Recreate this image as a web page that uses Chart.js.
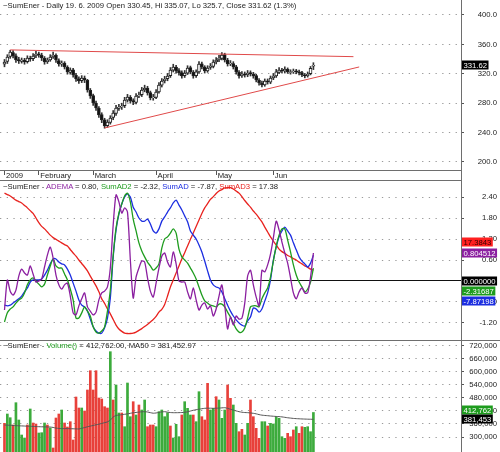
<!DOCTYPE html>
<html lang="en">
<head>
<meta charset="UTF-8">
<title>SumEner - Daily</title>
<script src="https://cdn.jsdelivr.net/npm/chart.js"></script>
<style>
  body { margin: 0; background: #fff; width: 500px; height: 452px; overflow: hidden; position: relative;
         font-family: 'Liberation Sans', Arial, sans-serif; }
  .pane { position: absolute; left: 0; width: 500px; }
  .pane canvas { display: block; }
  .ttl { position: absolute; left: 3px; font-size: 7.7px; line-height: 9px; color: #222; white-space: nowrap; }
  .rule { position: absolute; background: #6e6e6e; }
</style>
</head>
<body>
<div class="pane" style="top:0;height:180px"><canvas id="price" width="500" height="180"></canvas></div>
<div class="pane" style="top:180px;height:160px"><canvas id="osc" width="500" height="160"></canvas></div>
<div class="pane" style="top:340px;height:112px"><canvas id="vol" width="500" height="112"></canvas></div>
<div class="rule" style="left:0;top:180px;width:462px;height:1px"></div>
<div class="rule" style="left:0;top:340px;width:500px;height:1px"></div>
<div class="rule" style="left:461px;top:0;width:1px;height:452px"></div>
<div class="ttl" style="top:1px">~SumEner - Daily 19. 6. 2009 Open 330.45, Hi 335.07, Lo 325.7, Close 331.62 (1.3%)</div>
<div class="ttl" style="top:182px">~SumEner - <span style="color:#8b1fa0">ADEMA</span> = 0.80, <span style="color:#1e9c1e">SumAD2</span> = -2.32, <span style="color:#1c2ee0">SumAD</span> = -7.87, <span style="color:#e8221e">SumAD3</span> = 17.38</div>
<div class="ttl" style="top:341px">~SumEner - <span style="color:#1e9c1e">Volume()</span> = 412,762.00, MA50 = 381,452.97</div>

<script>
  // ---- data (one value per trading day, 14 Jan .. 19 Jun 2009) ----
  const monthTicks = [0, 12, 31, 53, 74, 94];
  const monthLabels = ['2009', 'February', 'March', 'April', 'May', 'Jun'];

  const priceTicks = [200, 240, 280, 320, 360, 400];
  const openP = [333.0,337.0,343.5,349.0,344.5,339.5,337.0,338.5,336.5,341.0,
    340.5,344.5,347.0,345.0,341.0,336.5,339.0,343.0,345.0,338.0,
    333.0,334.5,329.0,322.0,325.5,318.0,313.0,310.5,314.0,311.0,
    297.5,290.5,280.0,273.0,264.5,257.5,249.5,254.0,260.5,266.0,
    273.0,275.0,276.5,284.0,288.0,283.5,281.0,290.0,291.5,298.0,
    300.5,294.5,287.5,288.0,295.5,304.5,310.5,313.5,317.5,325.0,
    329.0,324.5,321.5,317.5,321.0,328.5,322.0,317.5,322.5,333.5,
    329.0,324.0,328.5,330.0,336.0,339.0,341.0,346.0,338.5,333.5,
    334.0,329.5,322.0,317.5,320.0,318.5,321.5,319.5,317.5,311.0,
    307.5,305.0,310.5,308.5,314.5,317.0,322.0,325.0,323.5,326.0,
    322.0,322.8,324.0,322.5,321.5,318.0,317.5,320.0,330.45];
  const highP = [339.5,346.0,352.0,351.5,347.0,342.5,341.5,341.0,344.5,344.0,
    347.5,350.5,349.5,348.0,343.5,341.5,346.0,349.5,347.0,340.5,
    337.5,336.5,331.0,328.0,327.5,320.5,316.0,317.5,317.0,312.5,
    300.0,292.5,283.0,275.5,267.0,259.5,257.5,263.0,270.0,277.0,
    278.5,280.0,288.0,292.0,290.5,286.0,293.0,295.0,301.5,304.5,
    303.0,296.5,292.0,298.5,308.0,313.5,316.5,320.5,328.5,333.0,
    331.5,327.0,324.0,324.5,331.0,330.5,324.5,325.5,336.5,336.0,
    331.0,331.0,334.0,339.0,342.0,345.0,349.0,348.0,341.0,338.0,
    336.5,331.5,324.5,323.0,322.5,324.5,324.0,322.0,319.5,313.5,
    310.0,313.0,313.0,317.0,320.5,326.0,328.5,327.5,329.5,328.0,
    325.5,326.5,326.0,325.0,323.5,320.5,322.5,330.0,335.07];
  const lowP = [329.5,334.0,341.0,341.5,335.5,334.0,334.5,333.0,334.5,337.0,
    338.0,342.0,342.5,338.0,333.0,334.0,337.0,341.0,335.5,330.5,
    330.0,326.5,319.5,319.5,315.5,309.5,307.0,308.0,308.0,295.0,
    286.5,277.0,270.0,260.5,253.5,246.0,247.0,251.5,257.5,263.5,
    270.0,271.5,274.0,281.5,280.0,278.0,279.0,287.5,289.0,295.5,
    291.0,284.5,284.0,286.0,293.5,302.0,307.5,310.5,315.0,322.5,
    321.0,318.0,314.0,315.0,319.0,320.0,314.0,315.0,320.5,326.5,
    321.0,322.0,326.0,328.0,333.5,336.5,339.0,336.0,330.5,331.0,
    326.5,319.5,314.0,315.0,315.5,316.0,317.0,314.0,309.0,304.5,
    302.0,303.0,306.0,306.5,312.0,315.0,320.0,321.5,321.0,320.5,
    319.5,320.5,320.0,318.5,316.0,314.5,315.5,318.5,325.7];
  const closeP = [336.1,342.9,349.7,344.2,338.8,337.4,338.8,336.1,341.5,340.1,
    344.2,346.9,345.6,341.5,336.1,338.8,342.9,345.6,338.8,333.3,
    334.7,329.3,322.5,325.2,318.4,312.9,310.2,314.3,311.6,298.0,
    289.8,280.3,273.5,264.0,257.1,249.0,254.4,259.9,266.7,273.5,
    274.8,276.2,284.4,288.4,283.0,281.6,289.8,291.2,298.0,300.7,
    293.9,287.1,288.4,295.2,304.8,310.2,312.9,317.0,325.2,329.3,
    323.8,321.1,317.0,321.1,327.9,322.5,317.0,322.5,333.3,329.3,
    323.8,327.9,330.6,336.1,338.8,341.5,345.6,338.8,333.3,334.7,
    329.3,322.5,317.0,319.7,318.4,321.1,319.7,317.0,311.6,307.5,
    304.8,310.2,308.8,314.3,317.0,322.5,325.2,323.8,326.5,322.5,
    322.5,323.8,322.5,321.1,318.4,317.0,319.7,327.4,331.62];
  // trend lines: [day index, price]
  const trendUpper = [[2, 352.5], [122, 343.3]];
  const trendLower = [[35, 246.3], [124, 329.3]];

  const oscTicks = [-1.2, -0.6, 0, 0.6, 1.2, 1.8, 2.4];
  const adema = [-0.83,0.03,-0.29,-0.40,-0.26,0.14,0.34,0.23,0.17,0.43,
    0.20,-0.03,0.00,0.06,0.40,0.74,0.97,0.66,0.17,-0.11,
    -0.23,-0.11,-0.06,-0.43,-0.91,-0.97,-0.71,-0.51,-0.34,-0.74,
    -0.86,-0.97,-0.89,-0.54,-0.34,-0.29,-0.17,0.37,1.60,2.46,
    2.26,1.94,2.09,1.97,0.60,-0.49,0.11,0.37,0.57,0.54,
    0.09,-0.29,-0.46,-0.06,0.37,0.71,0.80,0.54,0.40,0.83,
    0.49,0.00,-0.03,-0.03,-0.31,-0.51,-0.20,-0.54,-0.83,-0.69,
    -0.63,-0.80,-0.71,-1.00,-0.80,-0.43,-0.11,-0.69,-1.37,-1.03,
    -1.26,-1.00,-1.09,-1.06,-0.63,0.14,0.31,-0.11,-0.46,-0.71,
    0.31,0.26,0.46,0.77,1.23,1.71,1.46,1.11,0.80,0.51,
    0.09,-0.34,-0.51,-0.31,-0.20,-0.34,-0.34,0.11,0.80];
  const sumAD2 = [-1.17,-0.91,-0.80,-0.74,-0.63,-0.54,-0.49,-0.34,-0.11,0.03,
    0.09,0.00,-0.09,-0.17,-0.09,0.17,0.43,0.63,0.43,0.37,
    0.37,0.20,0.03,-0.23,-0.54,-1.06,-1.06,-0.91,-0.74,-0.86,
    -1.00,-1.31,-1.46,-1.49,-1.43,-1.31,-0.86,-0.26,0.74,1.51,
    1.94,2.20,2.43,2.51,2.26,1.77,1.43,1.09,0.86,0.69,
    0.54,0.43,0.31,0.37,0.49,0.94,1.20,1.26,1.37,1.49,
    1.37,0.91,0.69,0.60,0.51,0.37,0.23,0.06,-0.17,-0.40,
    -0.57,-0.63,-0.69,-0.71,-0.74,-0.66,-0.66,-0.74,-0.89,-1.03,
    -1.20,-1.37,-1.46,-1.46,-1.34,-1.06,-0.74,-0.71,-0.71,-0.74,
    -0.51,-0.34,-0.20,0.11,0.57,1.00,1.31,1.49,1.49,1.17,
    0.83,0.46,0.17,-0.03,-0.17,-0.31,-0.23,-0.03,0.37];
  const sumAD = [-0.69,-0.71,-0.69,-0.63,-0.57,-0.51,-0.43,-0.31,-0.20,-0.03,
    0.03,0.03,0.03,0.06,0.17,0.31,0.49,0.63,0.63,0.54,
    0.49,0.46,0.34,0.17,-0.06,-0.29,-0.54,-0.69,-0.74,-0.86,
    -1.09,-1.31,-1.43,-1.49,-1.49,-1.34,-1.06,-0.49,0.69,1.46,
    1.91,2.20,2.40,2.49,2.40,2.11,1.97,1.80,1.71,1.71,
    1.77,1.63,1.43,1.37,1.49,1.71,1.83,1.97,2.09,2.23,
    2.31,2.17,2.03,1.86,1.69,1.43,1.31,1.20,1.03,0.83,
    0.57,0.29,0.03,-0.11,-0.17,-0.20,-0.31,-0.51,-0.69,-0.86,
    -1.00,-1.11,-1.20,-1.26,-1.29,-1.14,-1.03,-0.77,-0.80,-0.89,
    -0.80,-0.57,-0.34,0.03,0.60,0.97,1.26,1.43,1.54,1.43,
    1.31,1.09,0.89,0.69,0.57,0.49,0.40,0.51,0.74];
  const sumAD3 = [2.51,2.47,2.43,2.37,2.31,2.27,2.23,2.16,2.09,2.01,
    1.93,1.80,1.67,1.56,1.49,1.40,1.31,1.24,1.19,1.14,
    1.09,1.04,1.00,0.90,0.80,0.71,0.60,0.50,0.40,0.29,
    0.14,0.00,-0.14,-0.31,-0.51,-0.64,-0.80,-0.94,-1.10,-1.26,
    -1.37,-1.44,-1.49,-1.50,-1.50,-1.49,-1.46,-1.41,-1.36,-1.30,
    -1.24,-1.17,-1.10,-1.01,-0.89,-0.81,-0.67,-0.43,-0.17,0.03,
    0.23,0.43,0.63,0.81,1.00,1.19,1.37,1.56,1.74,1.93,
    2.09,2.21,2.33,2.41,2.50,2.57,2.61,2.66,2.67,2.67,
    2.63,2.57,2.51,2.41,2.30,2.20,2.11,2.00,1.91,1.80,
    1.69,1.54,1.40,1.26,1.14,1.03,0.91,0.84,0.79,0.73,
    0.69,0.64,0.60,0.54,0.49,0.43,0.39,0.34,0.31];

  const volTicks = [300000, 360000, 420000, 480000, 540000, 600000, 660000, 720000];
  const volume = [363000,405800,388800,355200,457800,378200,309200,295400,355200,428800,
    364400,359800,318400,319800,364400,355200,341400,249400,387400,405800,
    424200,364400,346000,370400,286200,484000,433400,433400,419600,516200,
    605000,516200,605000,479400,474800,439400,433400,692400,470200,539200,
    410400,410400,347400,548400,393400,462400,401200,447200,424200,470200,
    347400,355200,355200,347400,416400,424200,393400,411800,350600,295400,
    358400,301400,401200,462400,432000,401200,401200,370400,508400,393400,
    378200,547000,424200,432000,485400,470200,386000,424200,539200,478000,
    447200,363000,324400,335400,309200,363000,470200,393400,340000,294000,
    370400,370400,350600,363000,359800,393400,386000,301400,294000,317000,
    301400,332200,347400,317000,347400,344600,347400,324400,412762];
  // g = up-day volume bar, r = down-day volume bar
  const volumeSide = ('rggrggggrg' + 'rrgggrgrrr' + 'grrrrrrgrr' + 'rrrrrrrgrg' + 'grgggrgrgg' +
    'rrrgggg' + 'grgggrgggrggrrrggrgggrrggrrg' + 'grrrrggrggggg' + 'grrrgrrgggg').split('');
  const ma50 = [355200,354500,353800,353000,352300,351600,351000,350400,349800,349200,
    348600,348000,347400,347000,346600,346200,345800,344000,341000,339500,
    338800,338400,338600,338200,337800,337400,337000,340000,343500,347000,
    350200,353000,356000,359000,362500,366000,369500,378000,392000,399000,
    401000,402500,404500,406500,409000,411500,413000,414500,416000,416400,
    415000,412000,409500,410500,413500,415500,416400,414500,412500,411800,
    411800,412000,412500,413500,416000,419500,423000,425500,428000,430000,
    432000,432500,432500,432000,432500,433000,434000,434800,432000,427500,
    424000,420000,416500,414000,412500,412000,410500,409000,406500,403000,
    400500,399000,398000,396600,395500,394500,393800,392500,390500,388500,
    387000,385500,384500,383800,383000,382500,382000,381700,381453];

  // ---- look ----
  const FONT = "'Liberation Sans', Arial, sans-serif";
  Chart.defaults.font.family = FONT;
  Chart.defaults.font.size = 7.7;
  Chart.defaults.color = '#222';
  Chart.defaults.animation = false;

  const C = { purple: '#8b1fa0', green: '#1e9c1e', blue: '#1c2ee0', red: '#e8221e',
              volUp: '#3cab3c', volDown: '#e8403a', trend: '#e04a4a' };
  const X_MIN = -1.57, X_MAX = 159.6;
  const DOTS = [1.3, 5.4];

  // last-value tags on the right axis
  const priceTags = [{ text: '331.62', at: 331.62, bg: '#000', fg: '#fff' }];
  const oscTags = [
    { text: '17.3843', at: 1.12, bg: '#ff2020', fg: '#300' },
    { text: '0.804512', at: 0.8045, bg: C.purple, fg: '#fff' },
    { text: '0.000000', at: 0, bg: '#000', fg: '#fff' },
    { text: '-2.31687', at: -0.29, bg: C.green, fg: '#fff' },
    { text: '-7.87198', at: -0.57, bg: C.blue, fg: '#fff' }
  ];
  const volTags = [
    { text: '412,762', at: 424000, bg: C.green, fg: '#fff' },
    { text: '381,453', at: 381453, bg: '#000', fg: '#fff' }
  ];

  const tagPlugin = {
    id: 'tags',
    afterDraw(chart, args, opts) {
      const ctx = chart.ctx, ys = chart.scales.y, x0 = chart.chartArea.right + 1;
      ctx.save();
      ctx.font = '7.7px ' + FONT;
      ctx.textBaseline = 'middle';
      (opts.items || []).forEach(t => {
        const py = Math.round(ys.getPixelForValue(t.at));
        const w = ctx.measureText(t.text).width + 3;
        ctx.fillStyle = t.bg;
        ctx.fillRect(x0, py - 4.5, w, 9);
        ctx.fillStyle = t.fg;
        ctx.fillText(t.text, x0 + 1.5, py + 0.5);
      });
      ctx.restore();
    }
  };

  function hiddenX() {
    return { type: 'linear', min: X_MIN, max: X_MAX, offset: false, display: false };
  }

  function rightAxis(min, max, values, fmt, solidZero) {
    const isZero = c => solidZero && c.tick && c.tick.value === 0;
    return {
      position: 'right', min, max, bounds: 'data', beginAtZero: false,
      afterBuildTicks: ax => { ax.ticks = values.map(v => ({ value: v })); },
      afterFit: ax => { ax.width = 36; ax.paddingTop = 0; ax.paddingBottom = 0; },
      ticks: { crossAlign: 'far', padding: 2, color: '#222', callback: fmt },
      grid: { color: c => isZero(c) ? '#111' : '#9a9a9a', lineWidth: 1,
              drawTicks: true, tickLength: 3, tickColor: '#555' },
      border: { display: false, dash: c => isZero(c) ? [] : DOTS }
    };
  }

  function baseOptions(scales, tags) {
    return {
      responsive: false, devicePixelRatio: 1, events: [],
      layout: { padding: { left: 0, right: 3, top: 0, bottom: 0 } },
      plugins: { legend: { display: false }, tooltip: { enabled: false }, tags: { items: tags } },
      scales
    };
  }

  // ---- price pane ----
  new Chart(document.getElementById('price'), {
    type: 'bar',
    data: {
      datasets: [
        { type: 'line', data: trendUpper.map(p => ({ x: p[0], y: p[1] })), borderColor: C.trend,
          borderWidth: 1, pointRadius: 0, order: 0 },
        { type: 'line', data: trendLower.map(p => ({ x: p[0], y: p[1] })), borderColor: C.trend,
          borderWidth: 1, pointRadius: 0, order: 0 },
        { data: openP.map((o, i) => ({ x: i, y: [o, closeP[i]] })),
          backgroundColor: closeP.map((c, i) => c >= openP[i] ? '#fff' : '#111'),
          borderColor: '#222', borderWidth: 1, borderSkipped: false,
          barThickness: 3, grouped: false, order: 1 },
        { data: lowP.map((l, i) => ({ x: i, y: [l, highP[i]] })), backgroundColor: '#333',
          barThickness: 1, grouped: false, order: 2 }
      ]
    },
    options: baseOptions({
      x: {
        type: 'linear', position: 'bottom', min: X_MIN, max: X_MAX, offset: false, bounds: 'data',
        afterBuildTicks: ax => { ax.ticks = monthTicks.map(v => ({ value: v })); },
        afterFit: ax => { ax.height = 10; ax.paddingLeft = 0; ax.paddingRight = 0; },
        ticks: { autoSkip: false, maxRotation: 0, align: 'start', padding: -4, labelOffset: 1.5,
                 color: '#222', callback: (v, i) => monthLabels[i] },
        grid: { display: true, drawOnChartArea: false, drawTicks: true, tickLength: 5,
                tickColor: '#555', offset: false },
        border: { display: true, color: '#6e6e6e', width: 1 }
      },
      y: rightAxis(189.1, 420.4, priceTicks, v => v.toFixed(1), false)
    }, priceTags),
    plugins: [tagPlugin]
  });

  // ---- oscillator pane ----
  const oscLine = (vals, color) => ({
    data: vals.map((v, i) => ({ x: i, y: v })), borderColor: color, borderWidth: 1.3,
    pointRadius: 0, tension: 0.25, fill: false
  });
  new Chart(document.getElementById('osc'), {
    type: 'line',
    data: { datasets: [oscLine(adema, C.purple), oscLine(sumAD2, C.green),
                       oscLine(sumAD, C.blue), oscLine(sumAD3, C.red)] },
    options: baseOptions({
      x: hiddenX(),
      y: rightAxis(-1.686, 2.886, oscTicks, v => v.toFixed(2), true)
    }, oscTags),
    plugins: [tagPlugin]
  });

  // ---- volume pane ----
  new Chart(document.getElementById('vol'), {
    type: 'bar',
    data: {
      datasets: [
        { type: 'line', data: ma50.map((v, i) => ({ x: i, y: v })), borderColor: '#555',
          borderWidth: 1, pointRadius: 0, tension: 0.2, order: 0 },
        { data: volume.map((v, i) => ({ x: i, y: v })),
          backgroundColor: volumeSide.map(s => s === 'g' ? C.volUp : C.volDown),
          barThickness: 2, grouped: false, order: 1 }
      ]
    },
    options: baseOptions({
      x: hiddenX(),
      y: rightAxis(231000, 746200, volTicks, v => v.toLocaleString('en-US'), false)
    }, volTags),
    plugins: [tagPlugin]
  });
</script>
</body>
</html>
